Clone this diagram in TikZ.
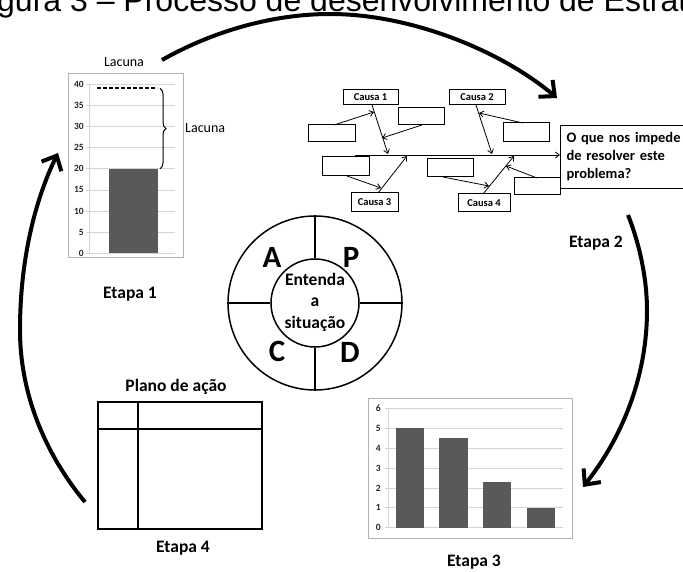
\documentclass[tikz,border=0pt]{standalone}
\usepackage{fontspec}
\setmainfont{Carlito}
\newfontfamily\titlefont{Liberation Sans}
\usetikzlibrary{arrows.meta,decorations.pathreplacing}
\begin{document}
\begin{tikzpicture}[x=1pt,y=-1pt,
  bigarrow/.style={line width=4pt,-{Straight Barb[length=12pt,width=22pt]}},
  fbox/.style={draw,line width=1pt,inner sep=0pt,font=\bfseries\fontsize{10.5}{12}\selectfont},
  thinarrow/.style={line width=0.8pt,-{Straight Barb[length=4pt,width=6pt]}},
  gridline/.style={draw=black!17,line width=0.8pt},
  chartframe/.style={draw=black!30,line width=0.9pt},
  barfill/.style={fill=black!65},
  ylab/.style={font=\bfseries\fontsize{9.5}{10}\selectfont,text=black!85,anchor=east,inner sep=0pt},
  etapa/.style={font=\bfseries\fontsize{17.5}{20}\selectfont,inner sep=0pt},
  pdca/.style={font=\bfseries\fontsize{31}{34}\selectfont,inner sep=0pt},
  tableline/.style={line width=1.8pt}
]
\useasboundingbox (0,0) rectangle (683,572);
\begin{scope}
\clip (0,0) rectangle (683,572);
% title (cut off at the top and right)
\node[anchor=base west,inner sep=0pt,font=\titlefont\fontsize{32}{38}\selectfont] (title) at (-3,12) {gura 3 – Processo de desenvolvimento de Estrat};

% cycle arrows
\coordinate (t0) at (162,60); \coordinate (t1) at (330,14); \coordinate (t2) at (557,98);
\draw[bigarrow] (t0) .. controls (215,30) and (275,14) .. (t1) .. controls (410,14) and (500,50) .. (t2);
\coordinate (r0) at (628,215); \coordinate (r1) at (647,310); \coordinate (r2) at (583,487);
\draw[bigarrow] (r0) .. controls (640,245) and (647,280) .. (r1) .. controls (647,380) and (620,440) .. (r2);
\coordinate (l0) at (85,502); \coordinate (l1) at (20,330); \coordinate (l2) at (58,153);
\draw[bigarrow] (l0) .. controls (50,460) and (20,400) .. (l1) .. controls (20,260) and (35,200) .. (l2);

% ---------- Etapa 1 chart
\draw[chartframe] (68,73) rectangle (183,257);
\foreach \v in {0,5,...,40} {
  \draw[gridline] (89,{253.3-4.225*\v}) -- (175,{253.3-4.225*\v});
  \draw[gridline] (86,{253.3-4.225*\v}) -- (89,{253.3-4.225*\v});
  \node[ylab] (ya\v) at (84,{253.3-4.225*\v}) {\v};
}
\draw[gridline] (89,84.3) -- (89,253.3);
\fill[barfill] (109,168.8) rectangle (158,253.3);
\draw[line width=1.6pt,dash pattern=on 4pt off 2pt] (97,88.3) -- (157,88.3);
\draw[line width=1pt,decorate,decoration={brace,amplitude=6pt}] (160,88.3) -- (160,168.8);
\node[font=\fontsize{14}{16}\selectfont,inner sep=0pt] (lacunatop) at (124,62) {Lacuna};
\node[font=\fontsize{14}{16}\selectfont,inner sep=0pt,anchor=west] (lacunaright) at (185,128) {Lacuna};
\node[etapa] (e1) at (130,294) {Etapa 1};

% ---------- Etapa 2 fishbone
\node[fbox,minimum width=55pt,minimum height=15pt] (c1) at (370.5,97.5) {Causa 1};
\node[fbox,minimum width=46pt,minimum height=17pt] (ba) at (421,116.5) {};
\node[fbox,minimum width=56pt,minimum height=15pt] (c2) at (477,97.5) {Causa 2};
\node[fbox,minimum width=47pt,minimum height=17pt] (bl1) at (331.5,133.5) {};
\node[fbox,minimum width=46pt,minimum height=19pt] (br1) at (526,132.5) {};
\node[fbox,minimum width=47pt,minimum height=19pt] (bl2) at (345.5,166.5) {};
\node[fbox,minimum width=46pt,minimum height=18pt] (bm) at (450,168) {};
\node[fbox,minimum width=46pt,minimum height=17pt] (br2) at (537,186.5) {};
\node[fbox,minimum width=47pt,minimum height=19pt] (c3) at (374.5,202.5) {Causa 3};
\node[fbox,minimum width=52pt,minimum height=18pt] (c4) at (484,203) {Causa 4};
\node[draw,line width=1pt,anchor=north west,minimum height=63pt,text width=128pt,inner xsep=6pt,inner ysep=0pt,align=left,font=\bfseries\fontsize{14.5}{18}\selectfont] (q) at (560,125) {O que nos impede\\de resolver este\\problema?};

\coordinate (sp0) at (355,155);
\draw[thinarrow] (sp0) -- (sp0 -| q.west);
\coordinate (b1a) at (372,105); \coordinate (b1b) at (388,154);
\coordinate (b2a) at (476,105); \coordinate (b2b) at (492,154);
\coordinate (b3a) at (378,193); \coordinate (b3b) at (407,156);
\coordinate (b4a) at (483,194); \coordinate (b4b) at (514,156);
\draw[thinarrow] (b1a) -- (b1b);
\draw[thinarrow] (b2a) -- (b2b);
\draw[thinarrow] (b3a) -- (b3b);
\draw[thinarrow] (b4a) -- (b4b);
\coordinate (s1a) at (334,125); \coordinate (s1b) at (374,112);
\coordinate (s2a) at (422,125); \coordinate (s2b) at (382,138);
\coordinate (s3a) at (523,123); \coordinate (s3b) at (479,113);
\coordinate (s4a) at (347,176); \coordinate (s4b) at (381,188);
\coordinate (s5a) at (443,177); \coordinate (s5b) at (489,186);
\coordinate (s6a) at (537,178); \coordinate (s6b) at (506,166);
\foreach \i in {1,...,6} { \draw[thinarrow] (s\i a) -- (s\i b); }
\node[etapa] (e2) at (596,243) {Etapa 2};

% ---------- PDCA
\node[circle,draw,line width=1.5pt,minimum size=174pt,inner sep=0pt] (outer) at (315,303) {};
\node[circle,draw,line width=1.5pt,minimum size=88pt,inner sep=0pt] (inner) at (315,303) {};
\draw[line width=1.5pt] (outer.north) -- (inner.north);
\draw[line width=1.5pt] (inner.south) -- (outer.south);
\draw[line width=1.5pt] (outer.west) -- (inner.west);
\draw[line width=1.5pt] (inner.east) -- (outer.east);
\node[align=center,inner sep=0pt,font=\bfseries\fontsize{17.5}{21.5}\selectfont] (innertext) at (315,302) {Entenda\\a\\situação};
\node[pdca] (pa) at (272,257) {A};
\node[pdca] (pp) at (351,257) {P};
\node[pdca] (pc) at (277,351) {C};
\node[pdca] (pd) at (350,352) {D};

% ---------- Etapa 3 chart
\draw[chartframe] (368,398) rectangle (572,538);
\foreach \v in {0,...,6} {
  \draw[gridline] (388,{527.7-19.9*\v}) -- (563,{527.7-19.9*\v});
  \draw[gridline] (385,{527.7-19.9*\v}) -- (388,{527.7-19.9*\v});
  \node[ylab] (yb\v) at (381,{527.7-19.9*\v}) {\v};
}
\draw[gridline] (388,408) -- (388,527.7);
\fill[barfill] (396,428.2) rectangle (424,527.7);
\fill[barfill] (439,438.2) rectangle (468,527.7);
\fill[barfill] (483,481.9) rectangle (511,527.7);
\fill[barfill] (527,507.8) rectangle (555,527.7);
\node[etapa] (e3) at (474,562) {Etapa 3};

% ---------- Etapa 4 table
\node[etapa] (plano) at (176,387) {Plano de ação};
\draw[tableline] (98,402) rectangle (262,529);
\draw[tableline] (98,429) -- (262,429);
\draw[tableline] (138,402) -- (138,529);
\node[etapa] (e4) at (183,548) {Etapa 4};
\end{scope}
\end{tikzpicture}
\end{document}
